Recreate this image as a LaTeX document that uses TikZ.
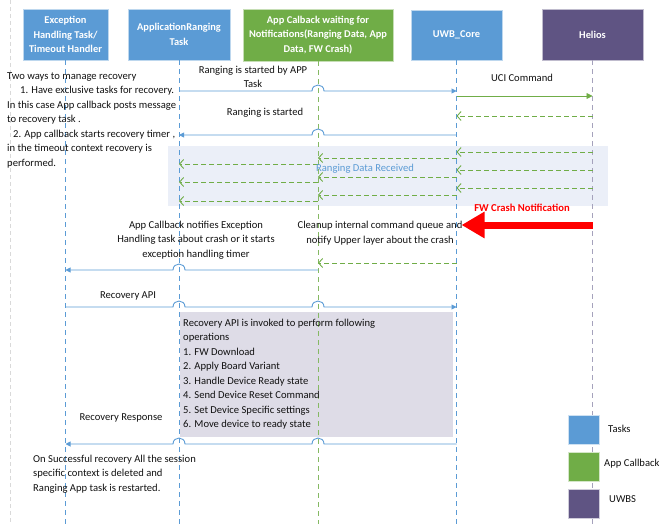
\documentclass[tikz,border=0pt]{standalone}
\usepackage{fontspec}
\setmainfont{Carlito}
\usetikzlibrary{arrows.meta}

\definecolor{taskblue}{HTML}{5B9BD5}
\definecolor{cbgreen}{HTML}{70AD47}
\definecolor{uwbpurple}{HTML}{5F5483}
\definecolor{heliosline}{HTML}{A5A2BC}
\definecolor{bandfill}{HTML}{EBEFF8}
\definecolor{opsfill}{HTML}{DEDCE7}
\definecolor{borderline}{HTML}{D9D9D9}
\definecolor{txt}{HTML}{111111}

\tikzset{
  txtfont/.style={font=\fontsize{10.6}{14.5}\selectfont, text=txt, inner sep=0pt},
  hdr/.style={draw=white!60!#1, fill=#1, line width=0.6pt, text=white,
    font=\bfseries\fontsize{10.4}{14.5}\selectfont, align=center, inner sep=0pt},
  lifeline/.style={line width=0.9pt, dash pattern=on 5pt off 4pt},
  msg/.style={draw=taskblue, line width=0.9pt, -{Triangle[length=5pt,width=5pt]}},
  callmsg/.style={draw=cbgreen, line width=0.9pt, -{Triangle[length=6pt,width=6pt]}},
  retmsg/.style={draw=cbgreen, line width=0.9pt, dash pattern=on 5pt off 3pt,
    -{Straight Barb[length=4pt,width=9pt,line width=0.9pt]}},
  legendbox/.style={fill=#1, draw=white!70!#1, line width=0.6pt,
    minimum width=31pt, minimum height=29pt, inner sep=0pt},
}

\begin{document}
\begin{tikzpicture}[x=1pt,y=-1pt]
\useasboundingbox (0,0) rectangle (660,524);
\coordinate (bot) at (0,524);

% page border on the left
\draw[borderline, line width=0.8pt, dash pattern=on 4pt off 3pt] (10,0) -- (10,524);

% participants
\node[hdr=taskblue, minimum width=85pt, minimum height=51pt] (ex) at (65.5,34.5)
  {Exception\\Handling Task/\\Timeout Handler};
\node[hdr=taskblue, minimum width=102pt, minimum height=51pt] (ar) at (179,34.5)
  {ApplicationRanging\\Task};
\node[hdr=cbgreen, minimum width=150pt, minimum height=52pt] (cb) at (318,35)
  {App Calback waiting for\\Notifications(Ranging Data, App\\Data, FW Crash)};
\node[hdr=taskblue, minimum width=91pt, minimum height=50pt] (uw) at (456.5,35)
  {UWB\_Core};
\node[hdr=uwbpurple, minimum width=101pt, minimum height=51pt] (he) at (592.5,34.5)
  {Helios};

% background regions
\node[fill=bandfill, minimum width=440pt, minimum height=60pt, anchor=north west,
  inner sep=0pt] (band) at (168,146) {};
\node[fill=opsfill, draw=white, line width=0.6pt, minimum width=274pt,
  minimum height=126pt, anchor=north west, inner sep=0pt] (ops) at (179,311) {};

% lifelines
\draw[lifeline, taskblue] (ex.south) -- (ex |- bot);
\draw[lifeline, taskblue] (ar.south) -- (ar |- bot);
\draw[lifeline, cbgreen!85!white] (cb.south) -- (cb |- bot);
\draw[lifeline, taskblue] (uw.south) -- (uw |- bot);
\draw[lifeline, heliosline] (he.south) -- (he |- bot);

% message rows
\coordinate (m1) at (0,91);
\coordinate (m2) at (0,96);
\coordinate (m3) at (0,116);
\coordinate (m4) at (0,135);
\coordinate (d1) at (0,152);
\coordinate (d2) at (0,170);
\coordinate (d3) at (0,188);
\coordinate (e1) at (0,158);
\coordinate (e2) at (0,177);
\coordinate (e3) at (0,195);
\coordinate (f1) at (0,164);
\coordinate (f2) at (0,182);
\coordinate (f3) at (0,201);
\coordinate (fw) at (0,225);
\coordinate (m5) at (0,263);
\coordinate (m6) at (0,270);
\coordinate (m7) at (0,307);
\coordinate (m8) at (0,444);

% ranging start
\draw[msg] (ar |- m1) -- ([xshift=-6pt]cb |- m1)
  .. controls +(0,-8) and +(0,-8) .. ([xshift=6pt]cb |- m1) -- (uw |- m1);
\draw[callmsg] (uw |- m2) -- (he |- m2);
\draw[retmsg] (he |- m3) -- (uw |- m3);
\draw[msg] (uw |- m4) -- ([xshift=6pt]cb |- m4)
  .. controls +(0,-8) and +(0,-8) .. ([xshift=-6pt]cb |- m4) -- (ar |- m4);

% ranging data notifications
\foreach \r in {d1,d2,d3} \draw[retmsg] (he |- \r) -- (uw |- \r);
\foreach \r in {e1,e2,e3} \draw[retmsg] (uw |- \r) -- (cb |- \r);
\foreach \r in {f1,f2,f3} \draw[retmsg] (cb |- \r) -- (ar |- \r);

% firmware crash
\draw[red, line width=7pt, -{Triangle[length=23pt,width=25pt]}]
  (he |- fw) -- ([xshift=5pt]uw |- fw);
\draw[retmsg] (uw |- m5) -- (cb |- m5);
\draw[msg] (cb |- m6) -- ([xshift=6pt]ar |- m6)
  .. controls +(0,-8) and +(0,-8) .. ([xshift=-6pt]ar |- m6) -- (ex |- m6);

% recovery
\draw[msg] (ex |- m7) -- ([xshift=-6pt]ar |- m7)
  .. controls +(0,-8) and +(0,-8) .. ([xshift=6pt]ar |- m7)
  -- ([xshift=-6pt]cb |- m7)
  .. controls +(0,-8) and +(0,-8) .. ([xshift=6pt]cb |- m7) -- (uw |- m7);
\draw[msg] (uw |- m8) -- ([xshift=6pt]cb |- m8)
  .. controls +(0,-8) and +(0,-8) .. ([xshift=-6pt]cb |- m8)
  -- ([xshift=6pt]ar |- m8)
  .. controls +(0,-8) and +(0,-8) .. ([xshift=-6pt]ar |- m8) -- (ex |- m8);

% labels
\node[txtfont, align=left, anchor=west] (ways) at (7,120)
  {Two ways to manage recovery\\
   \hspace*{13pt}1. Have exclusive tasks for recovery.\\
   In this case App callback posts message\\
   to recovery task .\\
   \hspace*{6pt}2. App callback starts recovery timer ,\\
   in the timeout context recovery is\\
   performed.};
\node[txtfont, align=center] (l1) at (253,77) {Ranging is started by APP\\Task};
\node[txtfont] (l2) at (265,113) {Ranging is started};
\node[txtfont] (l3) at (522,78) {UCI Command};
\node[txtfont, text=taskblue] (l4) at (365,169) {Ranging Data Received};
\node[txtfont, text=red, font=\bfseries\fontsize{10.6}{14.5}\selectfont] (l5)
  at (522,208) {FW Crash Notification};
\node[txtfont, align=center] (l6) at (380,233)
  {Cleanup internal command queue and\\notify Upper layer about the crash};
\node[txtfont, align=center] (l7) at (196,240)
  {App Callback notifies Exception\\Handling task about crash or it starts\\exception handling timer};
\node[txtfont] (l8) at (128,296) {Recovery API};
\node[txtfont, align=left, anchor=west] (l9) at (183,374)
  {Recovery API is invoked to perform following\\
   operations\\
   1. FW Download\\
   2. Apply Board Variant\\
   3. Handle Device Ready state\\
   4. Send Device Reset Command\\
   5. Set Device Specific settings\\
   6. Move device to ready state};
\node[txtfont] (l10) at (121,418) {Recovery Response};
\node[txtfont, align=left, anchor=west] (l11) at (33,474)
  {On Successful recovery All the session\\
   specific context is deleted and\\
   Ranging App task is restarted.};

% legend
\node[legendbox=taskblue] (k1) at (583.5,430) {};
\node[legendbox=cbgreen] (k2) at (583.5,467) {};
\node[legendbox=uwbpurple] (k3) at (583.5,503.5) {};
\node[txtfont, anchor=west] (t1) at (608,429) {Tasks};
\node[txtfont, anchor=west] (t2) at (604,464) {App Callback};
\node[txtfont, anchor=west] (t3) at (609,499) {UWBS};
\end{tikzpicture}
\end{document}
